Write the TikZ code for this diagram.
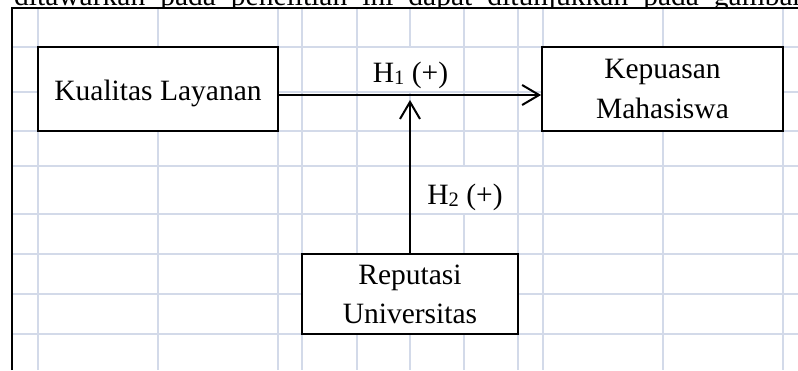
\documentclass[tikz,border=0pt]{standalone}
\usepackage{fontspec}
\setmainfont{Liberation Serif}
\usetikzlibrary{arrows.meta}

\definecolor{gridc}{RGB}{211,218,233}

\begin{document}
\begin{tikzpicture}[x=1pt,y=-1pt,
  gridline/.style={draw=gridc,line width=1.6pt},
  border/.style={draw=black,line width=2pt},
  varbox/.style={draw=black,line width=1.8pt,fill=white,inner sep=0pt,
    align=center,font=\fontsize{29.5}{40}\selectfont},
  hyp/.style={font=\fontsize{29.5}{36}\selectfont,inner sep=0pt,anchor=base},
  arr/.style={draw=black,line width=2pt,-{Straight Barb[length=17pt,width=20pt]}}
]
\useasboundingbox (0,0) rectangle (798,370);
\fill[white] (0,0) rectangle (798,370);

% running text line above the table, cut off by the table's top edge
\begin{scope}
  \clip (0,0) rectangle (798,7);
  \node[hyp,anchor=base west] (prose) at (14,5.5)
    {\spaceskip=15pt\relax ditawarkan pada penelitian ini dapat ditunjukkan pada gambar};
\end{scope}

% table gridlines (merged cells leave gaps)
\foreach \gx in {38,158,278,302,357,518,543,663,783}
  \draw[gridline] (\gx,7.7) -- (\gx,370);
\draw[gridline] (410,7.7) -- (410,47) (410,92) -- (410,370);
\draw[gridline] (464,7.7) -- (464,166) (464,214) -- (464,370);
\foreach \gy in {47,92,131,166,214,254,294,334}
  \draw[gridline] (12,\gy) -- (798,\gy);

% outer table border
\draw[border] (12,370) -- (12,7.7) -- (798,7.7);

% variables
\node[varbox,minimum width=240pt,minimum height=84pt,text height=22pt,text depth=0pt]
  (kl) at (158,89) {Kualitas Layanan};
\node[varbox,minimum width=241pt,minimum height=84pt]
  (km) at (662.5,89) {Kepuasan\\Mahasiswa};
\node[varbox,minimum width=216pt,minimum height=80pt,font=\fontsize{29.5}{39}\selectfont]
  (ru) at (410,294) {Reputasi\\Universitas};

% hypothesised paths
\coordinate (h1row) at (0,95);
\coordinate (h2tip) at (410,100);
\draw[arr] (kl.east |- h1row) -- (km.west |- h1row);
\draw[arr] (ru.north) -- (h2tip);

% path labels
\node[hyp] (h1) at (410.5,82.7) {H\raisebox{-1.5pt}{\fontsize{20.5}{20}\selectfont 1} (+)};
\node[hyp] (h2) at (465,204) {H\raisebox{-2.5pt}{\fontsize{20.5}{20}\selectfont 2} (+)};
\end{tikzpicture}
\end{document}
